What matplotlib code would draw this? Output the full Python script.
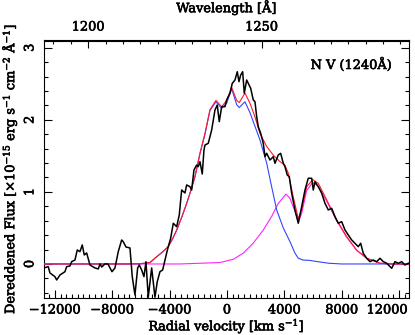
import numpy as np
import matplotlib
matplotlib.use("Agg")
import matplotlib.pyplot as plt
import matplotlib.patheffects as pe
from matplotlib.ticker import MultipleLocator, FixedLocator
from matplotlib.transforms import ScaledTranslation

# ---------------- data ----------------
# observed spectrum: radial velocity [km/s], flux [1e-15 erg/s/cm2/A]
obs_v = [-12753, -12454, -12335, -11987, -11868, -11638, -11290, -11172, -10941, -10823,
         -10593, -10433, -10245, -10084, -9945, -9778, -9548, -9199, -8969, -8851,
         -8732, -8502, -8293, -8014, -7805, -7575, -7338, -7227, -7039, -6760,
         -6600, -6412, -6224, -6113, -5945, -5784, -5645, -5485, -5248, -5018,
         -4857, -4669, -4481, -4321, -4202, -4091, -3924, -3742, -3505, -3324,
         -3157, -2927, -2808, -2579, -2460, -2300, -2112, -2000, -1882, -1721,
         -1603, -1533, -1303, -1066, -836, -676, -537, -369, -139, -21,
         209, 369, 558, 718, 836, 955, 1094, 1206, 1373, 1484,
         1652, 1833, 1951, 2070, 2181, 2349, 2530, 2648, 2767, 2997,
         3227, 3345, 3575, 3742, 3924, 4042, 4202, 4342, 4509, 4739,
         4969, 5206, 5436, 5666, 5903, 6014, 6133, 6363, 6600, 6830,
         7060, 7296, 7527, 7756, 7993, 8223, 8453, 8690, 8920, 9150,
         9318, 9499, 9736, 9966, 10196, 10433, 10663, 10893, 11130, 11478,
         11708, 11938, 12175, 12405, 12635]
obs_f = [-0.055, -0.037, -0.125, -0.176, -0.222, -0.153, -0.107, -0.037, -0.028, 0.032,
         0.055, 0.194, 0.171, 0.264, 0.125, 0.153, -0.014, -0.055, -0.069, 0.0,
         -0.042, 0.0, 0.0, -0.107, -0.055, 0.171, 0.333, 0.309, 0.236, 0.222,
         -0.176, -0.43, -0.055, -0.014, -0.083, -0.176, 0.032, -0.46, -0.055, -0.46,
         -0.245, -0.107, -0.083, 0.055, 0.153, 0.240, 0.356, 0.565, 0.517, 0.680,
         1.026, 0.985, 1.096, 1.072, 1.026, 1.304, 1.373, 1.350, 1.419, 1.248,
         1.581, 1.650, 1.674, 1.859, 2.136, 2.205, 1.974, 2.182, 2.182, 2.275,
         2.368, 2.506, 2.552, 2.667, 2.529, 2.621, 2.667, 2.368, 2.552, 2.506,
         2.437, 2.275, 2.251, 2.043, 1.904, 1.813, 1.674, 1.488, 1.535, 1.442,
         1.488, 1.397, 1.512, 1.535, 1.397, 1.350, 1.234, 1.211, 0.981, 0.749,
         0.565, 0.795, 1.026, 1.189, 1.189, 1.026, 1.141, 1.072, 0.981, 0.842,
         0.749, 0.772, 0.656, 0.565, 0.587, 0.472, 0.402, 0.333, 0.287, 0.240,
         0.287, 0.148, 0.079, 0.032, 0.055, 0.032, 0.079, 0.032, 0.010, -0.060,
         0.032, 0.010, 0.032, -0.014, 0.010]

# total model (red)
tot_v = [-12750, -7000, -6063, -5366, -4899, -4500, -4091, -3800, -3505, -3150,
         -2808, -2500, -2230, -1882, -1533, -1185, -767, -369, -21, 328,
         676, 857, 1254, 1603, 1951, 2300, 2767, 3227, 3694, 4042,
         4272, 4620, 4969, 5206, 5554, 5972, 6363, 6948, 7645, 8342,
         9039, 9736, 10663, 11500, 12650]
tot_f = [0.0, 0.0, 0.003, 0.02, 0.10, 0.165, 0.24, 0.345, 0.47, 0.65,
         0.84, 1.03, 1.21, 1.535, 1.81, 2.14, 2.27, 2.18, 2.27, 2.45,
         2.27, 2.24, 2.37, 2.23, 2.04, 1.81, 1.63, 1.51, 1.42, 1.37,
         1.26, 0.93, 0.63, 0.75, 1.07, 1.17, 1.12, 0.89, 0.61, 0.38,
         0.19, 0.08, 0.01, 0.0, 0.0]

# broad N V component (blue)
blue_v = [-12750, -7000, -6063, -5366, -4899, -4500, -4091, -3800, -3505, -3150,
          -2808, -2500, -2230, -1882, -1533, -1185, -767, -369, -21, 328,
          676, 857, 1254, 1603, 1951, 2300, 2767, 3115, 3463, 3924,
          4390, 4739, 4969, 5300, 5740, 6400, 7100, 8000, 12650]
blue_f = [0.0, 0.0, 0.003, 0.02, 0.10, 0.165, 0.24, 0.345, 0.47, 0.65,
          0.84, 1.03, 1.21, 1.53, 1.80, 2.13, 2.25, 2.16, 2.23, 2.43,
          2.21, 2.17, 2.25, 2.10, 1.91, 1.72, 1.40, 1.07, 0.75, 0.50,
          0.31, 0.15, 0.08, 0.055, 0.05, 0.03, 0.01, 0.0, 0.0]

# second component (magenta)
mag_v = [-12750, -3275, -1882, -488, 439, 1136, 1833, 2530, 3115, 3575,
         4112, 4390, 4739, 4969, 5206, 5554, 5972, 6363, 6948, 7645,
         8342, 9039, 9736, 10663, 11500, 12650]
mag_f = [0.0, 0.0, 0.01, 0.02, 0.065, 0.15, 0.29, 0.47, 0.66, 0.84,
         0.97, 0.91, 0.73, 0.58, 0.70, 1.02, 1.13, 1.08, 0.87, 0.60,
         0.37, 0.19, 0.08, 0.01, 0.0, 0.0]

LAM0 = 1240.0          # rest wavelength [A]
C_KMS = 299792.458

# ---------------- plotting ----------------
plt.rcParams['font.family'] = ['DejaVu Serif']
plt.rcParams['mathtext.fontset'] = 'dejavuserif'
plt.rcParams['axes.unicode_minus'] = True
FS = 9.3
TFS = 9.3
BOLD = [pe.withStroke(linewidth=0.45, foreground='black')]

fig = plt.figure(figsize=(4.15, 3.35), dpi=100)
ax = fig.add_axes([44/415, 37/335, 364.5/415, 257.5/335])

ax.plot(obs_v, obs_f, color='black', lw=1.1, zorder=5)
ax.plot(mag_v, mag_f, color='#ff22ff', lw=0.8, zorder=3)
ax.plot(blue_v, blue_f, color='#3344ff', lw=0.8, zorder=3)
ax.plot(tot_v, tot_f, color='#ff1a2a', lw=0.8, zorder=4)

ax.set_xlim(-12750, 12650)
ax.set_ylim(-0.472, 3.10)

ax.xaxis.set_major_locator(MultipleLocator(4000))
ax.xaxis.set_minor_locator(MultipleLocator(400))
ax.yaxis.set_major_locator(MultipleLocator(1))
ax.yaxis.set_minor_locator(MultipleLocator(0.2))
ax.tick_params(which='both', direction='in', top=False, right=True,
               labelsize=TFS, width=0.8)
ax.tick_params(axis='x', which='both', pad=4)
ax.tick_params(axis='y', which='both', pad=5.5, labelrotation=90)
ax.tick_params(which='major', length=6)
ax.tick_params(which='minor', length=3)

for s in ax.spines.values():
    s.set_linewidth(0.8)

xl = ax.set_xlabel(r'Radial velocity [km s$^{-1}$]', fontsize=FS, labelpad=0)
yl = ax.set_ylabel(r'Dereddened Flux [$\times$10$^{-15}$ erg s$^{-1}$ cm$^{-2}$ Å$^{-1}$]',
                   fontsize=FS, labelpad=3)

def v2l(v):
    return LAM0 * (1 + np.asarray(v) / C_KMS)

def l2v(l):
    return (np.asarray(l) / LAM0 - 1) * C_KMS

sec = ax.secondary_xaxis('top', functions=(v2l, l2v))
sec.xaxis.set_major_locator(FixedLocator([1200, 1250]))
sec.xaxis.set_minor_locator(MultipleLocator(5))
sec.tick_params(which='both', direction='in', labelsize=TFS, width=0.8, pad=5)
sec.tick_params(which='major', length=6)
sec.tick_params(which='minor', length=3)
tl = sec.set_xlabel('Wavelength [Å]', fontsize=FS, labelpad=6)
sec.spines['top'].set_linewidth(0.8)

ann = ax.text(11500, 2.76, 'N V (1240Å)', fontsize=FS, ha='right', va='center')

fig.canvas.draw()
for lab in ax.get_yticklabels():
    lab.set_va('center')
for lab in ax.get_xticklabels():
    if lab.get_text().replace('\u2212', '-') == '12000':
        lab.set_transform(lab.get_transform() +
                          ScaledTranslation(-0.12, 0, fig.dpi_scale_trans))
texts = (list(ax.get_xticklabels()) + list(ax.get_yticklabels()) +
         list(sec.xaxis.get_ticklabels()) + [xl, yl, tl, ann])
for t in texts:
    t.set_path_effects(BOLD)

fig.savefig('out.png', dpi=100)
